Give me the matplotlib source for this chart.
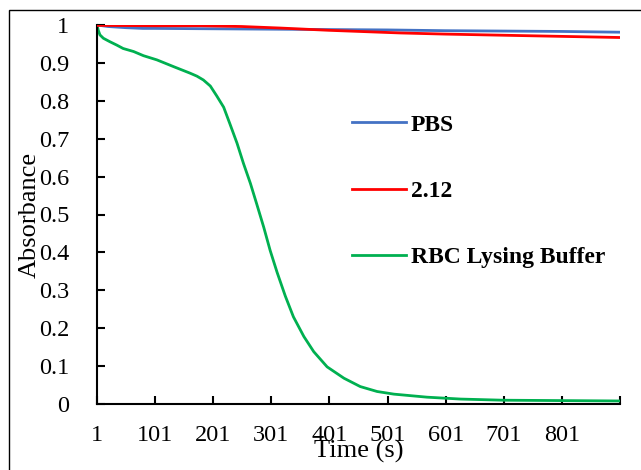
import matplotlib.pyplot as plt
from matplotlib.patches import Rectangle

plt.rcParams['font.family'] = ['Liberation Serif', 'DejaVu Serif']

# Absorbance readings over time
t_pbs = [1, 20, 50, 80, 100, 200, 300, 400, 500, 600, 700, 800, 901]
pbs = [1.0, 0.996, 0.993, 0.991, 0.991, 0.990, 0.989, 0.988, 0.987, 0.985, 0.984, 0.983, 0.981]

t_212 = [1, 100, 180, 250, 316, 400, 523, 600, 700, 800, 901]
s212 = [0.999, 0.998, 0.998, 0.996, 0.992, 0.986, 0.979, 0.976, 0.973, 0.970, 0.967]

t_rbc = [1, 3, 6, 12, 23, 35, 46, 64, 81, 104, 133, 161, 173, 184, 196, 207,
         219, 230, 242, 253, 265, 276, 288, 299, 311, 325, 339, 357, 374, 397,
         426, 454, 483, 512, 569, 627, 700, 800, 901]
rbc = [1.0, 0.987, 0.974, 0.965, 0.956, 0.947, 0.938, 0.930, 0.919, 0.908,
       0.890, 0.873, 0.865, 0.855, 0.839, 0.813, 0.783, 0.738, 0.688, 0.635,
       0.582, 0.527, 0.466, 0.405, 0.347, 0.285, 0.230, 0.178, 0.138, 0.098,
       0.068, 0.046, 0.033, 0.026, 0.018, 0.013, 0.010, 0.009, 0.008]

xticks = [1, 101, 201, 301, 401, 501, 601, 701, 801, 901]
xlabels = ['1', '101', '201', '301', '401', '501', '601', '701', '801', '']
yticks = [0, 0.1, 0.2, 0.3, 0.4, 0.5, 0.6, 0.7, 0.8, 0.9, 1.0]
ylabels = ['0', '0.1', '0.2', '0.3', '0.4', '0.5', '0.6', '0.7', '0.8', '0.9', '1']

fig = plt.figure(figsize=(6.41, 4.70), dpi=100)
ax = fig.add_axes([97 / 641, 66 / 470, 523 / 641, 379 / 470])

ax.plot(t_pbs, pbs, color='#4472C4', lw=2, label='PBS', zorder=3)
ax.plot(t_212, s212, color='#FF0000', lw=2, label='2.12', zorder=4)
ax.plot(t_rbc, rbc, color='#00B050', lw=2, label='RBC Lysing Buffer', zorder=2)

ax.set_xlim(1, 901)
ax.set_ylim(0, 1)
ax.set_xticks(xticks)
ax.set_xticklabels(xlabels)
ax.set_yticks(yticks)
ax.set_yticklabels(ylabels)
ax.tick_params(direction='in', length=6, width=1.5, labelsize=17.5, color='black')
ax.tick_params(axis='y', pad=20)
ax.tick_params(axis='x', pad=15)

for side in ['top', 'right']:
    ax.spines[side].set_visible(False)
for side in ['left', 'bottom']:
    ax.spines[side].set_linewidth(1.5)
    ax.spines[side].set_color('black')

ax.set_xlabel('Time (s)', fontsize=19, labelpad=-4)
ax.set_ylabel('Absorbance', fontsize=19, labelpad=-1)

ax.legend(loc='upper left', bbox_to_anchor=(352 / 641, 1 - 114 / 470),
          bbox_transform=fig.transFigure, frameon=False,
          prop={'weight': 'bold', 'size': 17}, handlelength=2.3,
          handletextpad=0.2, labelspacing=1.9, borderpad=0, borderaxespad=0)

# outer frame
fig.patches.append(Rectangle((8.5 / 641, -0.1), 1.2, (470 - 10.5) / 470 + 0.1,
                             transform=fig.transFigure, fill=False,
                             edgecolor='black', lw=1))

fig.savefig('out.png', dpi=100)
